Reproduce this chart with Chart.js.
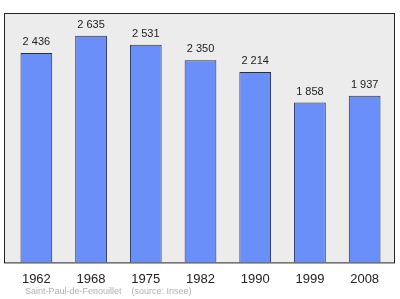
<!DOCTYPE html>
<html>
<head>
<meta charset="utf-8">
<script src="https://cdn.jsdelivr.net/npm/chart.js@4.4.0/dist/chart.umd.min.js"></script>
<style>
  html, body { margin: 0; padding: 0; background: #fff; }
  #wrap { width: 400px; height: 299px; position: relative; }
</style>
</head>
<body>
<div id="wrap"><canvas id="popChart"></canvas></div>
<script>
const years = ['1962', '1968', '1975', '1982', '1990', '1999', '2008'];
const population = [2436, 2635, 2531, 2350, 2214, 1858, 1937];
const footerText = 'Saint-Paul-de-Fenouillet    (source: Insee)';

const fmt = v => String(v).replace(/\B(?=(\d{3})+(?!\d))/g, ' ');

// grey box with frame behind the bars
const frameBox = {
    id: 'frameBox',
    beforeDatasetsDraw(chart) {
        const { ctx, chartArea: a } = chart;
        ctx.save();
        ctx.fillStyle = '#ececec';
        ctx.fillRect(a.left - 5, a.top, a.right - a.left + 8, a.bottom - a.top);
        ctx.restore();
    },
    afterDatasetsDraw(chart) {
        const { ctx, chartArea: a } = chart;
        ctx.save();
        ctx.strokeStyle = '#222';
        ctx.lineWidth = 1;
        ctx.strokeRect(a.left - 5 + 0.5, a.top + 0.5, a.right - a.left + 7, a.bottom - a.top);
        ctx.restore();
    }
};

const valueLabels = {
    id: 'valueLabels',
    afterDatasetsDraw(chart) {
        const { ctx } = chart;
        const meta = chart.getDatasetMeta(0);
        ctx.save();
        ctx.font = '11px "Liberation Sans", Arial, sans-serif';
        ctx.fillStyle = '#222';
        ctx.textAlign = 'center';
        ctx.textBaseline = 'middle';
        meta.data.forEach((bar, i) => {
            ctx.fillText(fmt(population[i]), bar.x, bar.y - 11);
        });
        ctx.restore();
    }
};

const footer = {
    id: 'footer',
    afterDraw(chart) {
        const { ctx } = chart;
        ctx.save();
        ctx.font = '9px "Liberation Sans", Arial, sans-serif';
        ctx.fillStyle = '#b0b0b0';
        ctx.textAlign = 'left';
        ctx.textBaseline = 'middle';
        ctx.fillText(footerText, 25, 292);
        ctx.restore();
    }
};

new Chart(document.getElementById('popChart'), {
    type: 'bar',
    data: {
        labels: years,
        datasets: [{
            data: population,
            backgroundColor: '#6a8ff8',
            borderColor: '#1f2d5c',
            borderWidth: 1,
            borderSkipped: 'bottom',
            categoryPercentage: 1,
            barPercentage: 0.58
        }]
    },
    options: {
        responsive: true,
        maintainAspectRatio: false,
        animation: false,
        layout: { padding: { top: 13, left: 9, right: 8, bottom: 3 } },
        plugins: {
            legend: { display: false },
            tooltip: { enabled: false }
        },
        scales: {
            y: {
                display: false,
                min: 0,
                max: 2900
            },
            x: {
                grid: { display: false, drawTicks: false },
                border: { display: false },
                ticks: {
                    color: '#222',
                    padding: 9,
                    font: { size: 13, family: '"Liberation Sans", Arial, sans-serif' }
                }
            }
        }
    },
    plugins: [frameBox, valueLabels, footer]
});
</script>
</body>
</html>
